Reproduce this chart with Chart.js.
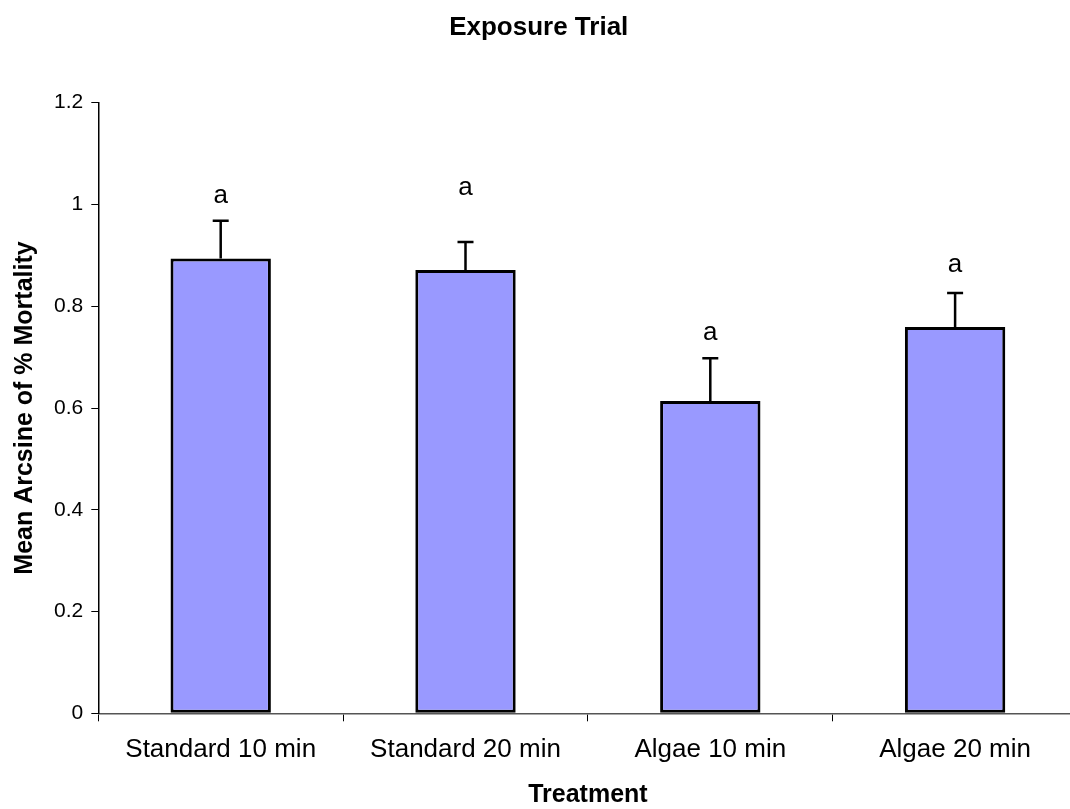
<!DOCTYPE html>
<html>
<head>
<meta charset="utf-8">
<script src="https://cdn.jsdelivr.net/npm/chart.js@4/dist/chart.umd.min.js"></script>
<style>
  html, body { margin: 0; padding: 0; background: #fff; overflow: hidden; }
  #wrap { width: 1080px; height: 809px; }
</style>
</head>
<body>
<div id="wrap"><canvas id="graphCanvas" width="1080" height="809"></canvas></div>
<script>
// values
var treatments = ['Standard 10 min', 'Standard 20 min', 'Algae 10 min', 'Algae 20 min'];
var meanArcsine = [0.894, 0.871, 0.614, 0.759];
var stdError = [0.074, 0.055, 0.084, 0.067];
var groupLetters = ['a', 'a', 'a', 'a'];
var letterLevel = [1.017, 1.032, 0.748, 0.881];
var yTicks = [0, 0.2, 0.4, 0.6, 0.8, 1, 1.2];

var fontName = '"Liberation Sans", Arial, sans-serif';

// error bars and letters drawn from the scales
var errorBars = {
  id: 'errorBars',
  afterDatasetsDraw: function (chart) {
    var ctx = chart.ctx;
    var meta = chart.getDatasetMeta(0);
    var y = chart.scales.y;
    ctx.save();
    ctx.strokeStyle = '#000';
    ctx.lineWidth = 2.5;
    for (var i = 0; i < meanArcsine.length; i++) {
      var bx = meta.data[i].x;
      var y0 = y.getPixelForValue(meanArcsine[i]);
      var y1 = y.getPixelForValue(meanArcsine[i] + stdError[i]);
      ctx.beginPath();
      ctx.moveTo(bx, y0);
      ctx.lineTo(bx, y1);
      ctx.moveTo(bx - 8, y1);
      ctx.lineTo(bx + 8, y1);
      ctx.stroke();
    }
    ctx.fillStyle = '#000';
    ctx.font = '26px ' + fontName;
    ctx.textAlign = 'center';
    ctx.textBaseline = 'middle';
    for (var j = 0; j < groupLetters.length; j++) {
      ctx.fillText(groupLetters[j], meta.data[j].x, y.getPixelForValue(letterLevel[j]));
    }
    ctx.restore();
  }
};

var chartdata = {
  labels: treatments,
  datasets: [
    {
      label: 'Mean',
      backgroundColor: '#9999FF',
      borderColor: '#000000',
      borderWidth: 3,
      borderSkipped: false,
      barPercentage: 0.41,
      categoryPercentage: 1.0,
      data: meanArcsine
    }
  ]
};

var graphTarget = document.getElementById('graphCanvas');

var barGraph = new Chart(graphTarget, {
  type: 'bar',
  data: chartdata,
  plugins: [errorBars],
  options: {
    responsive: false,
    animation: false,
    layout: { padding: { left: 0, right: 2.5, top: 0, bottom: 0 } },
    plugins: {
      legend: { display: false },
      tooltip: { enabled: false },
      title: {
        display: true,
        text: 'Exposure Trial',
        color: '#000',
        font: { family: fontName, size: 26, weight: 'bold', lineHeight: 1.2 },
        padding: { top: 12, bottom: 59.5 }
      }
    },
    scales: {
      x: {
        afterFit: function (scale) { scale.height = 95.7; },
        grid: { display: true, drawOnChartArea: false, offset: true, tickLength: 8, color: '#000' },
        border: { display: true, color: '#555', width: 1.5 },
        ticks: {
          color: '#000',
          padding: 13,
          maxRotation: 0,
          font: { family: fontName, size: 26 }
        },
        title: {
          display: true,
          text: 'Treatment',
          color: '#000',
          font: { family: fontName, size: 25, weight: 'bold', lineHeight: 1.1 },
          padding: { top: 0, bottom: 0 }
        }
      },
      y: {
        min: 0,
        max: 1.2,
        afterFit: function (scale) { scale.width = 98.3; },
        afterBuildTicks: function (scale) {
          scale.ticks = yTicks.map(function (v) { return { value: v }; });
        },
        grid: { display: true, drawOnChartArea: false, tickLength: 7, color: '#000' },
        border: { display: true, color: '#000', width: 1.5 },
        ticks: {
          color: '#000',
          padding: 8,
          font: { family: fontName, size: 21 },
          callback: function (v) { return String(Number(v.toFixed(1))); }
        },
        title: {
          display: true,
          text: 'Mean Arcsine of % Mortality',
          color: '#000',
          font: { family: fontName, size: 25, weight: 'bold', lineHeight: 1.2 },
          padding: { top: 10, bottom: 0 }
        }
      }
    }
  }
});
</script>
</body>
</html>
